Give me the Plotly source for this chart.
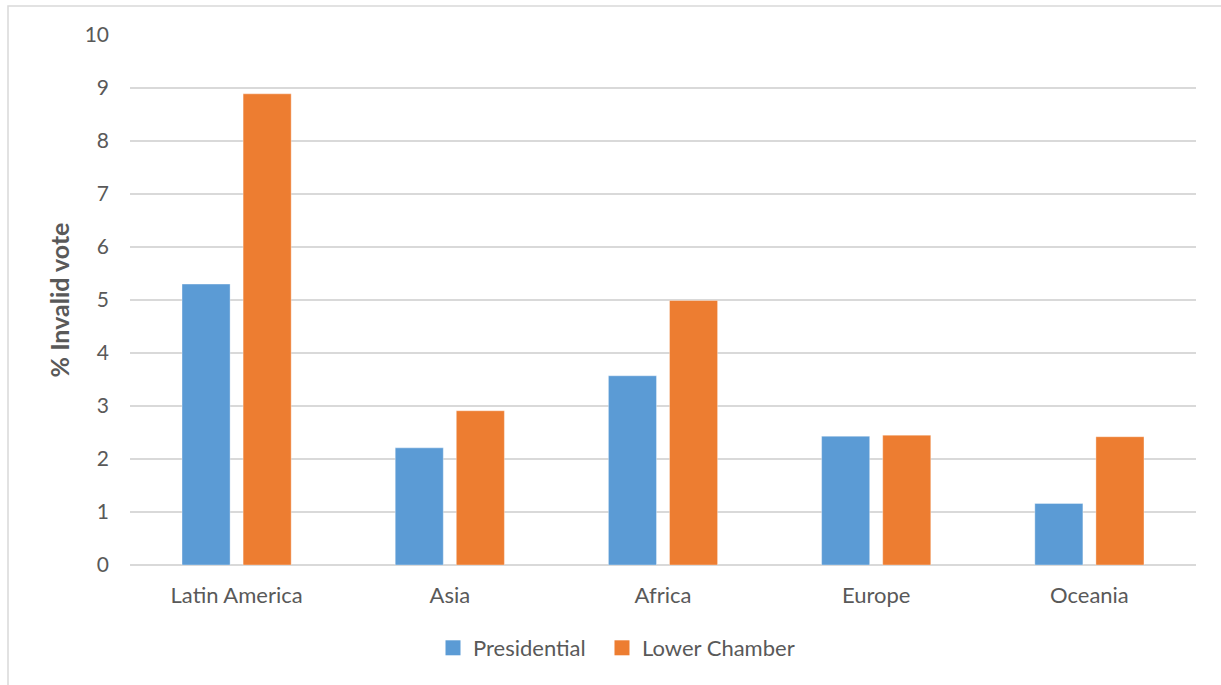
import plotly.graph_objects as go

regions = ["Latin America", "Asia", "Africa", "Europe", "Oceania"]
presidential = [5.30, 2.21, 3.57, 2.43, 1.16]
lower_chamber = [8.89, 2.91, 4.99, 2.45, 2.42]
y_ticks = list(range(0, 11))

BLUE = "#5B9BD5"
ORANGE = "#ED7D31"
TEXT = "#595959"
GRID = "#D9D9D9"
FONT = "Lato"

W, H = 1221, 685
ML, MR, MT, MB = 130, 25, 35, 120
pw, ph = W - ML - MR, H - MT - MB

fig = go.Figure()
for name, vals, col in [("Presidential", presidential, BLUE),
                        ("Lower Chamber", lower_chamber, ORANGE)]:
    fig.add_trace(go.Bar(
        name=name, x=regions, y=vals, showlegend=False, legendgroup=name,
        marker=dict(color=col, line=dict(color="rgba(255,255,255,0.35)", width=1)),
    ))
# square legend keys
for name, col in [("Presidential", BLUE), ("Lower Chamber", ORANGE)]:
    fig.add_trace(go.Scatter(
        name=name + "  ", x=[None], y=[None], mode="markers", legendgroup=name,
        marker=dict(symbol="square", size=15, color=col),
    ))

# outer chart frame (light gray)
fig.add_shape(
    type="rect", xref="paper", yref="paper",
    x0=(8 - ML) / pw, x1=(W + 10 - ML) / pw,
    y0=-(H + 10 - MT - ph) / ph, y1=(MT + ph - 6) / ph,
    line=dict(color=GRID, width=1.5), fillcolor="rgba(0,0,0,0)", layer="below",
)

fig.update_layout(
    width=W, height=H,
    margin=dict(l=ML, r=MR, t=MT, b=MB),
    paper_bgcolor="white", plot_bgcolor="white",
    barmode="group", bargap=0.427, bargroupgap=0.213,
    font=dict(family=FONT, color=TEXT, size=22),
    showlegend=True,
    legend=dict(
        orientation="h", x=(622 - ML) / pw, xanchor="center",
        y=-(648 - MT - ph) / ph, yanchor="middle",
        font=dict(size=22, color=TEXT), itemwidth=30, traceorder="normal",
    ),
    xaxis=dict(
        showgrid=False, showline=False, zeroline=False,
        tickfont=dict(size=22, color=TEXT), ticklabelstandoff=15,
        fixedrange=True,
    ),
    yaxis=dict(
        range=[0, 10], tickvals=y_ticks, ticktext=[str(v) for v in y_ticks],
        showgrid=True, gridcolor=GRID, gridwidth=1.5,
        zeroline=True, zerolinecolor=GRID, zerolinewidth=1.5,
        showline=False, ticks="", ticklabelstandoff=20,
        tickfont=dict(size=21, color=TEXT),
        title=dict(text="<b>% Invalid vote</b>", font=dict(size=25, color=TEXT), standoff=7),
        fixedrange=True,
    ),
)

fig.write_html("out.html")
